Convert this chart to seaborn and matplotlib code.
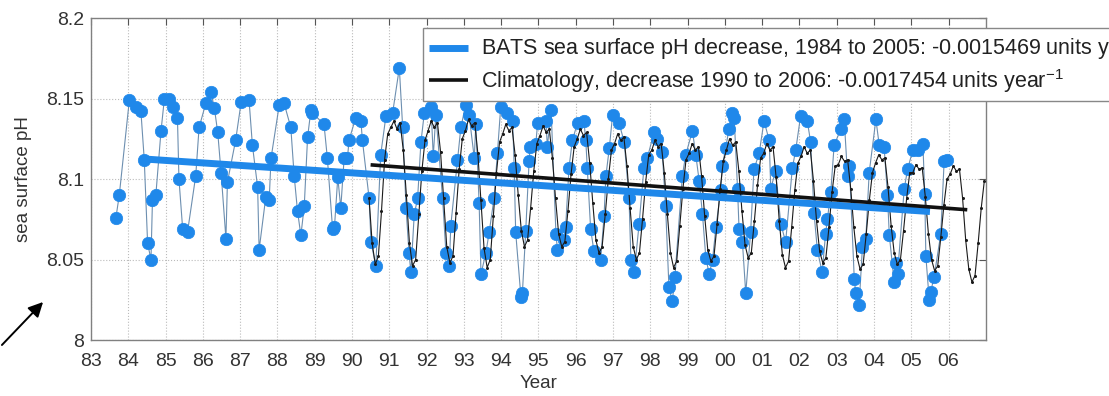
# BATS sea surface pH with climatology and linear trends

import numpy as np
import matplotlib
matplotlib.use('Agg')
import matplotlib.pyplot as plt
import seaborn as sns

# BATS observations (x = year - 1900)
bats_year = [83.67, 83.76, 84.03, 84.20, 84.34, 84.43, 84.52, 84.61, 84.65, 84.74,
             84.88, 84.97, 85.10, 85.19, 85.32, 85.36, 85.46, 85.59, 85.81, 85.90,
             86.08, 86.22, 86.31, 86.40, 86.49, 86.62, 86.66, 86.88, 87.03, 87.24,
             87.33, 87.47, 87.51, 87.69, 87.78, 87.83, 88.05, 88.18, 88.36, 88.45,
             88.54, 88.63, 88.72, 88.81, 88.90, 88.94, 89.25, 89.34, 89.48, 89.53,
             89.62, 89.70, 89.79, 89.88, 89.92, 90.10, 90.24, 90.28, 90.46, 90.51,
             90.64, 90.77, 90.91, 91.09, 91.27, 91.36, 91.45, 91.53, 91.58, 91.67,
             91.76, 91.85, 91.94, 92.12, 92.18, 92.25, 92.43, 92.52, 92.61, 92.65,
             92.83, 92.92, 93.05, 93.14, 93.28, 93.32, 93.41, 93.46, 93.59, 93.68,
             93.81, 93.90, 93.99, 94.17, 94.31, 94.35, 94.39, 94.53, 94.57, 94.66,
             94.75, 94.78, 94.93, 94.98, 95.20, 95.24, 95.34, 95.47, 95.51, 95.69,
             95.73, 95.82, 95.91, 96.05, 96.22, 96.27, 96.31, 96.40, 96.49, 96.67,
             96.76, 96.81, 96.90, 96.99, 97.16, 97.30, 97.43, 97.48, 97.57, 97.70,
             97.83, 97.92, 98.10, 98.19, 98.32, 98.41, 98.50, 98.59, 98.66, 98.86,
             98.95, 99.13, 99.22, 99.31, 99.40, 99.49, 99.58, 99.67, 99.76, 99.89,
             99.93, 100.02, 100.11, 100.20, 100.25, 100.34, 100.38, 100.47, 100.56, 100.69,
             100.78, 100.92, 101.05, 101.19, 101.23, 101.36, 101.50, 101.63, 101.81, 101.90,
             102.03, 102.21, 102.30, 102.39, 102.48, 102.61, 102.70, 102.75, 102.84, 102.93,
             103.11, 103.20, 103.29, 103.34, 103.47, 103.51, 103.60, 103.69, 103.78, 103.87,
             104.05, 104.14, 104.27, 104.36, 104.41, 104.54, 104.59, 104.63, 104.81, 104.90,
             105.04, 105.18, 105.31, 105.36, 105.39, 105.48, 105.52, 105.61, 105.79, 105.88,
             105.96]
bats_ph = [8.076, 8.090, 8.149, 8.145, 8.142, 8.112, 8.060, 8.050, 8.087, 8.090,
           8.130, 8.150, 8.150, 8.145, 8.138, 8.100, 8.069, 8.067, 8.102, 8.132,
           8.147, 8.154, 8.144, 8.129, 8.104, 8.063, 8.098, 8.124, 8.148, 8.149,
           8.121, 8.095, 8.056, 8.089, 8.087, 8.113, 8.146, 8.147, 8.132, 8.102,
           8.080, 8.065, 8.083, 8.126, 8.143, 8.141, 8.134, 8.113, 8.069, 8.070,
           8.101, 8.082, 8.113, 8.113, 8.124, 8.138, 8.136, 8.124, 8.088, 8.061,
           8.046, 8.115, 8.139, 8.141, 8.169, 8.132, 8.082, 8.054, 8.042, 8.078,
           8.088, 8.123, 8.141, 8.145, 8.114, 8.140, 8.088, 8.054, 8.046, 8.071,
           8.112, 8.132, 8.146, 8.140, 8.113, 8.134, 8.085, 8.041, 8.054, 8.067,
           8.088, 8.116, 8.145, 8.141, 8.136, 8.107, 8.067, 8.027, 8.029, 8.068,
           8.111, 8.120, 8.122, 8.135, 8.136, 8.120, 8.143, 8.066, 8.056, 8.062,
           8.070, 8.107, 8.124, 8.135, 8.136, 8.124, 8.107, 8.069, 8.055, 8.050,
           8.077, 8.102, 8.119, 8.140, 8.135, 8.123, 8.088, 8.050, 8.042, 8.072,
           8.107, 8.113, 8.129, 8.125, 8.117, 8.083, 8.033, 8.024, 8.039, 8.102,
           8.115, 8.130, 8.115, 8.099, 8.078, 8.051, 8.041, 8.050, 8.070, 8.093,
           8.108, 8.119, 8.131, 8.141, 8.138, 8.094, 8.069, 8.061, 8.029, 8.067,
           8.106, 8.116, 8.136, 8.124, 8.094, 8.105, 8.072, 8.061, 8.107, 8.118,
           8.139, 8.136, 8.123, 8.079, 8.056, 8.042, 8.066, 8.075, 8.092, 8.121,
           8.131, 8.137, 8.102, 8.108, 8.038, 8.029, 8.022, 8.058, 8.063, 8.104,
           8.137, 8.121, 8.120, 8.090, 8.065, 8.036, 8.048, 8.041, 8.094, 8.106,
           8.118, 8.118, 8.122, 8.091, 8.052, 8.025, 8.030, 8.039, 8.066, 8.111,
           8.112]

# monthly climatology, Jun 1990 to Dec 2006
clim_ph = [8.088, 8.060, 8.047, 8.052, 8.080, 8.112, 8.128,
           8.132, 8.136, 8.131, 8.135, 8.118, 8.090, 8.060, 8.046, 8.050, 8.078, 8.105, 8.124,
           8.130, 8.136, 8.132, 8.135, 8.117, 8.088, 8.058, 8.048, 8.052, 8.079, 8.106, 8.125,
           8.130, 8.137, 8.133, 8.135, 8.116, 8.087, 8.057, 8.045, 8.050, 8.077, 8.104, 8.123,
           8.128, 8.134, 8.130, 8.132, 8.115, 8.090, 8.068, 8.058, 8.062, 8.082, 8.105, 8.122,
           8.127, 8.133, 8.129, 8.131, 8.113, 8.088, 8.066, 8.058, 8.061, 8.080, 8.103, 8.120,
           8.125, 8.131, 8.127, 8.129, 8.110, 8.085, 8.062, 8.054, 8.058, 8.078, 8.100, 8.118,
           8.122, 8.128, 8.124, 8.126, 8.108, 8.082, 8.058, 8.050, 8.054, 8.075, 8.098, 8.115,
           8.118, 8.124, 8.120, 8.122, 8.104, 8.078, 8.054, 8.045, 8.049, 8.071, 8.094, 8.112,
           8.116, 8.122, 8.118, 8.120, 8.102, 8.077, 8.056, 8.049, 8.052, 8.072, 8.094, 8.111,
           8.118, 8.125, 8.121, 8.123, 8.105, 8.080, 8.059, 8.051, 8.054, 8.074, 8.096, 8.113,
           8.116, 8.122, 8.118, 8.120, 8.101, 8.074, 8.053, 8.045, 8.049, 8.070, 8.093, 8.110,
           8.114, 8.120, 8.116, 8.118, 8.099, 8.074, 8.055, 8.048, 8.051, 8.070, 8.092, 8.108,
           8.109, 8.114, 8.111, 8.112, 8.094, 8.070, 8.052, 8.044, 8.047, 8.066, 8.087, 8.104,
           8.110, 8.115, 8.112, 8.113, 8.095, 8.071, 8.054, 8.047, 8.050, 8.068, 8.088, 8.104,
           8.104, 8.109, 8.106, 8.107, 8.089, 8.066, 8.050, 8.043, 8.046, 8.064, 8.084, 8.100,
           8.103, 8.108, 8.105, 8.106, 8.088, 8.062, 8.044, 8.036, 8.040, 8.060, 8.082, 8.099]
clim_year = 90 + (np.arange(len(clim_ph)) + 5.5) / 12.0   # month midpoints from Jun 1990

# linear trend end points
bats_trend_year = [84.45, 105.50]
bats_trend_ph = [8.1124, 8.0798]
clim_trend_year = [90.50, 106.50]
clim_trend_ph = [8.1088, 8.0809]

xtick_pos = list(range(83, 107))
xtick_labels = ['83', '84', '85', '86', '87', '88', '89', '90', '91', '92', '93', '94',
                '95', '96', '97', '98', '99', '00', '01', '02', '03', '04', '05', '06']
ytick_pos = [8.0, 8.05, 8.1, 8.15, 8.2]
ytick_labels = ['8', '8.05', '8.1', '8.15', '8.2']

sns.set_style('white')
plt.rcParams['font.family'] = ['Liberation Sans', 'DejaVu Sans']
plt.rcParams['mathtext.default'] = 'regular'

blue = '#1f88ea'
fig = plt.figure(figsize=(11.09, 3.96), dpi=100)
ax = fig.add_axes([0.082, 0.1414, 0.807, 0.8131])

# observations: thin joining line, then dots
sns.lineplot(x=bats_year, y=bats_ph, ax=ax, color='#6d8fb0', lw=0.8, sort=False, zorder=2)
sns.scatterplot(x=bats_year, y=bats_ph, ax=ax, color=blue, s=80, edgecolor=blue,
                linewidth=0.5, zorder=3)
# climatology
sns.lineplot(x=clim_year, y=clim_ph, ax=ax, color='#1a1a1a', lw=0.8, marker='o',
             markersize=2.2, markeredgewidth=0, sort=False, zorder=4)
# trends
ax.plot(bats_trend_year, bats_trend_ph, color=blue, lw=5, solid_capstyle='butt', zorder=5,
        label='BATS sea surface pH decrease, 1984 to 2005: -0.0015469 units year$^{-1}$')
ax.plot(clim_trend_year, clim_trend_ph, color='#111111', lw=2.6, solid_capstyle='butt', zorder=6,
        label='Climatology, decrease 1990 to 2006: -0.0017454 units year$^{-1}$')

ax.set_xlim(83, 107)
ax.set_ylim(8.0, 8.2)
ax.set_xticks(xtick_pos)
ax.set_xticklabels(xtick_labels)
ax.set_yticks(ytick_pos)
ax.set_yticklabels(ytick_labels)
ax.tick_params(direction='in', length=5, width=0.8, colors='#555555', labelcolor='#333333',
               labelsize=14, top=True, right=True)
ax.tick_params(axis='x', pad=9)
ax.tick_params(axis='y', pad=5)
ax.grid(True, linestyle=':', color='#bbbbbb', lw=0.8)
for sp in ax.spines.values():
    sp.set_color('#808080')
    sp.set_linewidth(1.0)

ax.set_xlabel('Year', fontsize=13.5, color='#333333', labelpad=4)
ax.set_ylabel('sea surface pH', fontsize=13.5, color='#333333', labelpad=10)

leg = ax.legend(loc='upper left', bbox_to_anchor=(0.371, 0.969), fontsize=15.5, frameon=True,
                fancybox=False, framealpha=1, edgecolor='#888888', handlelength=1.8,
                handletextpad=0.6, borderpad=0.3, labelspacing=0.2, borderaxespad=0)
leg.get_frame().set_linewidth(1.0)
leg.set_zorder(10)
for t in leg.get_texts():
    t.set_color('#222222')

# arrow in the lower left corner
ax.annotate('', xy=(45 / 1109, 96 / 396), xytext=(0, 49 / 396),
            xycoords='figure fraction', textcoords='figure fraction',
            arrowprops=dict(arrowstyle='-|>', color='black', lw=1.4, mutation_scale=22),
            annotation_clip=False)

fig.savefig('out.png', dpi=100)
